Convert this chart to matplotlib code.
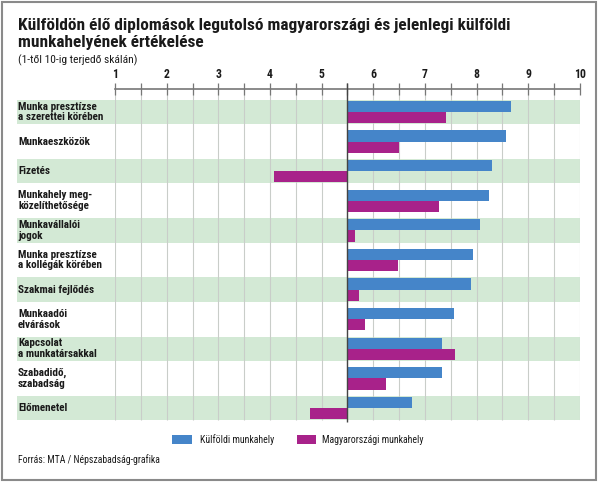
import matplotlib
matplotlib.use("Agg")
import matplotlib.pyplot as plt
from matplotlib.patches import Rectangle
from matplotlib import font_manager as fm

categories = [
    "Munka presztízse\na szerettei körében",
    "Munkaeszközök",
    "Fizetés",
    "Munkahely meg-\nközelíthetősége",
    "Munkavállalói\njogok",
    "Munka presztízse\na kollégák körében",
    "Szakmai fejlődés",
    "Munkaadói\nelvárások",
    "Kapcsolat\na munkatársakkal",
    "Szabadidő,\nszabadság",
    "Előmenetel",
]
kulfoldi = [8.66, 8.57, 8.30, 8.24, 8.07, 7.92, 7.89, 7.56, 7.33, 7.33, 6.74]
magyar = [7.40, 6.50, 4.07, 7.28, 5.64, 6.47, 5.72, 5.84, 7.58, 6.24, 4.78]
series_names = ["Külföldi munkahely", "Magyarországi munkahely"]
tick_values = list(range(1, 11))
baseline = 5.5


def wnum(w):
    try:
        return int(w)
    except Exception:
        return {"bold": 700, "heavy": 800, "black": 900, "semibold": 600,
                "demibold": 600, "extra bold": 800}.get(str(w).lower(), 400)


fams = {}
for f in fm.fontManager.ttflist:
    if "Condensed" in f.name or "Narrow" in f.name:
        fams.setdefault(f.name, set()).add(wnum(f.weight))
pref = ["Roboto Condensed", "Liberation Sans Narrow", "Open Sans Condensed",
        "Noto Sans Condensed", "Fira Sans Condensed"]
fam = None
for p in pref:
    if p in fams and max(fams[p]) >= 600:
        fam = p
        break
if fam is None:
    for k, v in fams.items():
        if max(v) >= 600 and min(v) <= 500:
            fam = k
            break
if fam is None:
    fam = "Roboto"
plt.rcParams["font.family"] = [fam, "DejaVu Sans"]

BLUE = "#4585c9"
MAG = "#a8228a"
GREEN = "#d3e9d5"
GRID = "#c9cdc9"
TXT = "#1a1a1a"

W, H = 598, 483
fig = plt.figure(figsize=(W / 100, H / 100), dpi=100)
fig.patch.set_facecolor("white")
renderer = fig.canvas.get_renderer()


def fit(t, target_px, maxfs=None):
    fs = t.get_fontsize()
    w = t.get_window_extent(renderer).width
    nfs = fs * target_px / w
    if maxfs is not None:
        nfs = min(nfs, maxfs)
    t.set_fontsize(nfs)
    return nfs


x0, x1 = 115, 580
yt, yb = 89, 421
ax = fig.add_axes([x0 / W, 1 - yb / H, (x1 - x0) / W, (yb - yt) / H])
ax.set_xlim(1, 10)
n = len(categories)
pitch = 29.6
ax.set_ylim(10 + (yb - 408) / pitch, -(112 - yt) / pitch)
ax.set_facecolor("none")

unit = (x1 - x0) / 9.0
left_val = 1 - (x0 - 17) / unit

for i in range(n):
    if i % 2 == 0:
        ax.add_patch(Rectangle((left_val, i - 0.415), 10 - left_val, 0.83,
                               facecolor=GREEN, edgecolor="none", zorder=0, clip_on=False))

half = [1 + 0.5 * k for k in range(19)]
ax.vlines(half, ax.get_ylim()[1], n - 1 + 0.415, colors=GRID, lw=0.8, zorder=1)

ys = list(range(n))
h = 0.375
ax.barh([y - 0.19 for y in ys], [v - baseline for v in kulfoldi], left=baseline,
        height=h, color=BLUE, zorder=2, label=series_names[0])
ax.barh([y + 0.19 for y in ys], [v - baseline for v in magyar], left=baseline,
        height=h, color=MAG, zorder=2, label=series_names[1])

ax.vlines([baseline], -(112 - 83) / pitch, 10 + (422 - 408) / pitch,
          colors="#444444", lw=1.0, zorder=3, clip_on=False)

labels = []
for i, c in enumerate(categories):
    labels.append(ax.text(left_val + 0.02, i, c, ha="left", va="center", fontsize=8,
                          fontweight="bold", color=TXT, linespacing=1.12, zorder=4,
                          clip_on=False))
probe = fig.text(0, 0, "a szerettei körében", fontsize=8, fontweight="bold")
lfs = fit(probe, 86, maxfs=9)
probe.remove()
for t in labels:
    t.set_fontsize(lfs)

for s in ["left", "right", "bottom"]:
    ax.spines[s].set_visible(False)
ax.spines["top"].set_color("#777777")
ax.spines["top"].set_linewidth(1.2)
ax.xaxis.set_ticks_position("top")
ax.set_xticks(tick_values)
ax.set_xticks(half, minor=True)
ax.set_xticklabels([str(t) for t in tick_values], fontsize=8.5, fontweight="bold", color=TXT)
ax.tick_params(axis="x", which="both", direction="inout", length=8, width=0.9,
               color="#777777", pad=2)
ax.set_yticks([])

t1 = fig.text(18 / W, 1 - 30 / H, "Külföldön élő diplomások legutolsó magyarországi és jelenlegi külföldi",
              ha="left", va="baseline", fontsize=12, fontweight="bold", color=TXT)
tfs = fit(t1, 490, maxfs=14)
fig.text(18 / W, 1 - 46.5 / H, "munkahelyének értékelése",
         ha="left", va="baseline", fontsize=tfs, fontweight="bold", color=TXT)
st = fig.text(18 / W, 1 - 63 / H, "(1-től 10-ig terjedő skálán)", ha="left", va="baseline",
              fontsize=8, color=TXT)
fit(st, 119, maxfs=9)

lg1 = fig.text(200 / W, 1 - 440 / H, series_names[0], ha="left", va="center", fontsize=8, color=TXT)
gfs = fit(lg1, 74, maxfs=9)
fig.text(322 / W, 1 - 440 / H, series_names[1], ha="left", va="center", fontsize=gfs, color=TXT)
fig.patches.append(Rectangle((172 / W, 1 - 444 / H), 20 / W, 9 / H, facecolor=BLUE,
                             edgecolor="none", transform=fig.transFigure))
fig.patches.append(Rectangle((297 / W, 1 - 444 / H), 19 / W, 9 / H, facecolor=MAG,
                             edgecolor="none", transform=fig.transFigure))

src = fig.text(18 / W, 1 - 460 / H, "Forrás: MTA / Népszabadság-grafika", ha="left", va="center",
               fontsize=8, color=TXT)
fit(src, 142, maxfs=9)

fig.patches.append(Rectangle((2 / W, 1 - 480 / H), 594 / W, 478 / H, facecolor="none",
                             edgecolor="#8a8a8a", lw=1.5, transform=fig.transFigure))

fig.savefig("out.png", dpi=100)
